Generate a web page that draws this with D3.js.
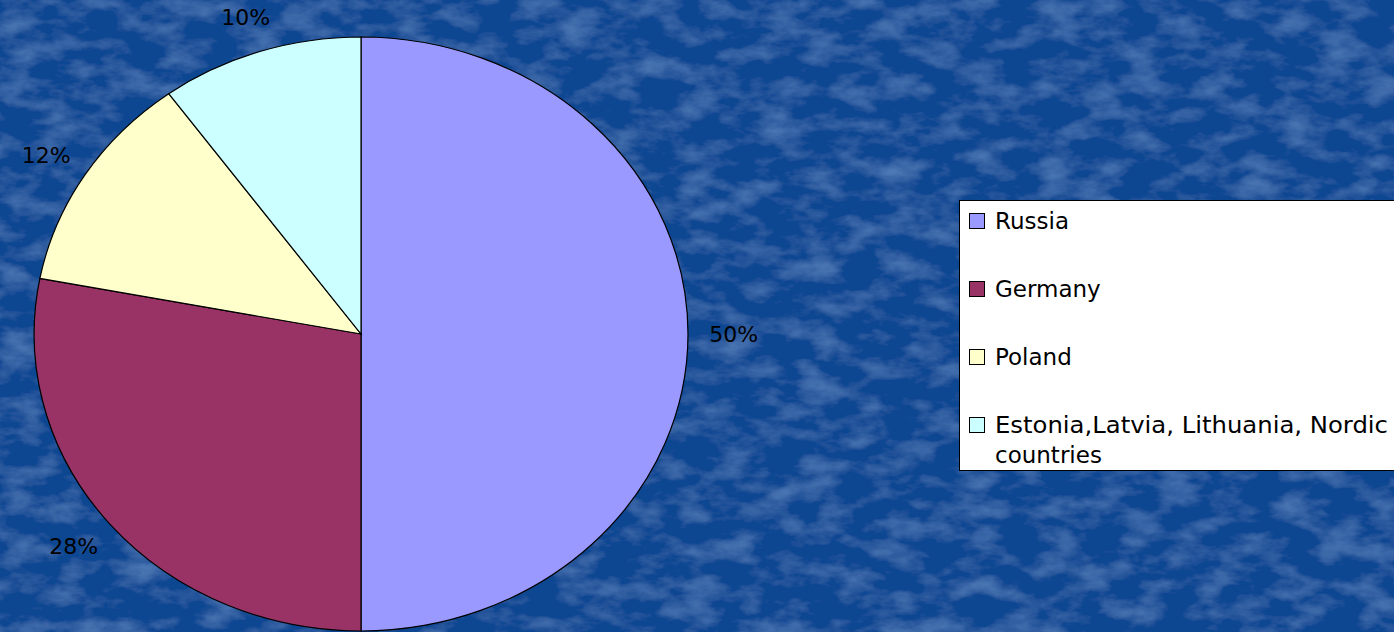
<!DOCTYPE html>
<html><head><meta charset="utf-8">
<script src="https://cdn.jsdelivr.net/npm/d3@7/dist/d3.min.js"></script>
<style>html,body{margin:0;padding:0;overflow:hidden;background:#0c4993;}</style>
</head><body>
<svg id="c" width="1394" height="632"></svg>
<script>
const categories = ["Russia", "Germany", "Poland", "Estonia,Latvia, Lithuania, Nordic countries"];
const values = [50, 28, 12, 10];
const labels = ["50%", "28%", "12%", "10%"];
const colors = ["#9999ff", "#993366", "#ffffcc", "#ccffff"];

const W = 1394, H = 632;
const svg = d3.select("#c");
const defs = svg.append("defs");
const f = defs.append("filter").attr("id","tex").attr("x",0).attr("y",0).attr("width","100%").attr("height","100%");
f.append("feTurbulence").attr("type","fractalNoise").attr("baseFrequency","0.025 0.05").attr("numOctaves",4).attr("seed",3).attr("result","n");
f.append("feColorMatrix").attr("in","n").attr("type","matrix")
  .attr("values","0 0 0 0 0.2  0 0 0 0 0.42  0 0 0 0 0.78  0 0 0 0.7 -0.3").attr("result","m");
f.append("feComposite").attr("in","m").attr("in2","SourceGraphic").attr("operator","over");
svg.append("rect").attr("width",W).attr("height",H).attr("fill","#0b4792").attr("filter","url(#tex)");

const cx = 361, cy = 334, rx = 327, ry = 297;
const pie = d3.pie().sort(null).value(d => d)(values);
const arc = d3.arc().innerRadius(0).outerRadius(1);
const g = svg.append("g").attr("transform",`translate(${cx},${cy}) scale(${rx},${ry})`);
g.selectAll("path").data(pie).join("path")
  .attr("d", arc).attr("fill",(d,i)=>colors[i])
  .attr("stroke","#000").attr("stroke-width",1.2).attr("vector-effect","non-scaling-stroke");

const lrx = 1.14, lry = 1.12;
svg.selectAll("text.lbl").data(pie).join("text").attr("class","lbl")
  .attr("x", d => cx + Math.sin((d.startAngle+d.endAngle)/2)*lrx*rx)
  .attr("y", d => cy - Math.cos((d.startAngle+d.endAngle)/2)*lry*ry)
  .attr("text-anchor","middle").attr("dominant-baseline","central")
  .attr("font-family","DejaVu Sans, sans-serif").attr("font-size",22).attr("fill","#000")
  .text((d,i)=>labels[i]);

// legend
const lg = svg.append("g");
lg.append("rect").attr("x",959.5).attr("y",200.5).attr("width",450).attr("height",270)
  .attr("fill","#fff").attr("stroke","#000").attr("stroke-width",1);
const rowY = d3.scalePoint().domain(categories).range([221, 425]);
categories.forEach((c,i)=>{
  const y = rowY(c);
  lg.append("rect").attr("x",969.5).attr("y",y-7.5).attr("width",15).attr("height",15)
    .attr("fill",colors[i]).attr("stroke","#000").attr("stroke-width",1);
  const t = lg.append("text").attr("x",995).attr("y",y).attr("dominant-baseline","central")
    .attr("font-family","DejaVu Sans, sans-serif").attr("font-size",23).attr("fill","#000");
  if (i === 3) {
    t.append("tspan").attr("x",995).text("Estonia,Latvia, Lithuania, Nordic").attr("textLength",393).attr("lengthAdjust","spacingAndGlyphs");
    lg.append("text").attr("x",995).attr("y",y+30).attr("dominant-baseline","central")
      .attr("font-family","DejaVu Sans, sans-serif").attr("font-size",23).attr("fill","#000").text("countries");
  } else t.text(c);
});
</script>
</body></html>
